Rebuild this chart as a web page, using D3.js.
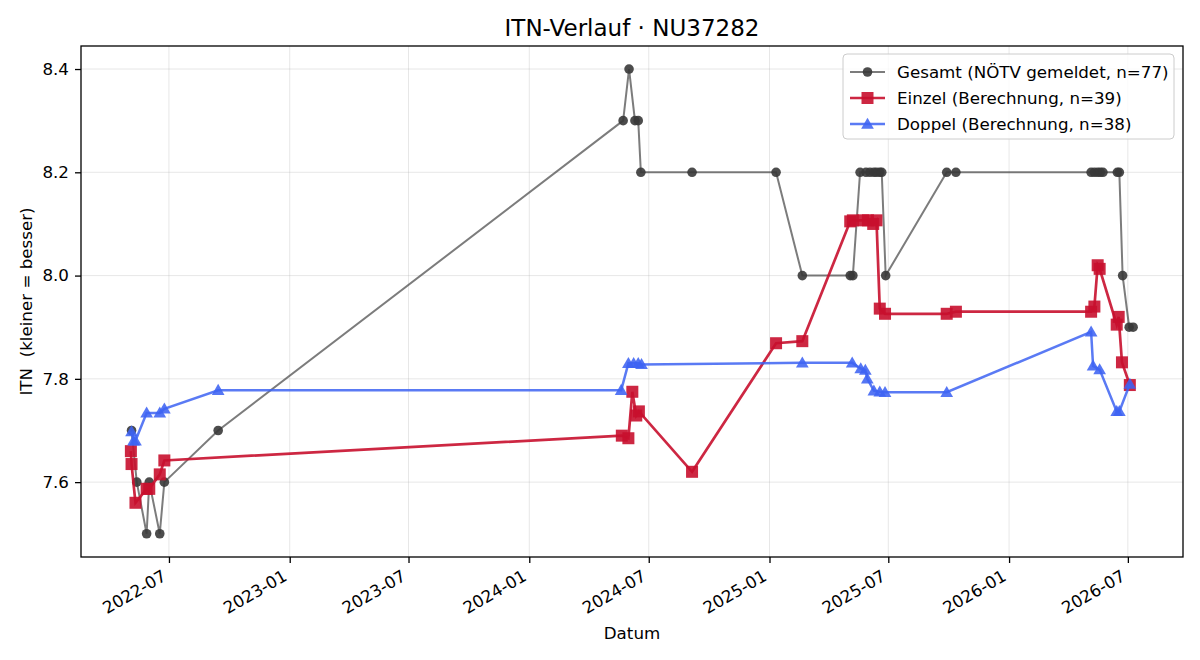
<!DOCTYPE html>
<html>
<head>
<meta charset="utf-8">
<script src="https://cdn.jsdelivr.net/npm/d3@7"></script>
<style>
  body { margin: 0; background: #fff; }
  svg { font-family: "DejaVu Sans", sans-serif; }
  svg text { white-space: pre; }
</style>
</head>
<body>
<svg id="chart" width="1200" height="660"></svg>
<script>
// ---- data ----
const gesamtDates = [
  "2022-05-05", "2022-05-13", "2022-05-28", "2022-06-01", "2022-06-17", "2022-06-24", "2022-09-14",
  "2024-05-23", "2024-06-01", "2024-06-10", "2024-06-15", "2024-06-19", "2024-09-05", "2025-01-11",
  "2025-02-20", "2025-05-04", "2025-05-08", "2025-05-19", "2025-05-28", "2025-06-03", "2025-06-09",
  "2025-06-13", "2025-06-18", "2025-06-21", "2025-06-27", "2025-09-28", "2025-10-12",
  "2026-05-06", "2026-05-11", "2026-05-16", "2026-05-20", "2026-05-24", "2026-06-15", "2026-06-18",
  "2026-06-23", "2026-07-03", "2026-07-09"
];
const gesamtValues = [
  7.7, 7.6, 7.5, 7.6, 7.5, 7.6, 7.7,
  8.3, 8.4, 8.3, 8.3, 8.2, 8.2, 8.2,
  8.0, 8.0, 8.0, 8.2, 8.2, 8.2, 8.2,
  8.2, 8.2, 8.2, 8.0, 8.2, 8.2,
  8.2, 8.2, 8.2, 8.2, 8.2, 8.2, 8.2,
  8.0, 7.9, 7.9
];

const einzelDates = [
  "2022-05-04", "2022-05-05", "2022-05-11", "2022-05-28", "2022-06-01", "2022-06-17", "2022-06-24",
  "2024-05-21", "2024-05-31", "2024-06-06", "2024-06-12", "2024-06-16", "2024-09-05", "2025-01-11",
  "2025-02-20", "2025-05-04", "2025-05-08", "2025-05-24", "2025-05-31", "2025-06-08", "2025-06-13",
  "2025-06-18", "2025-06-26", "2025-09-28", "2025-10-12", "2026-05-06", "2026-05-11", "2026-05-16",
  "2026-05-19", "2026-06-14", "2026-06-17", "2026-06-22", "2026-07-04"
];
const einzelValues = [
  7.66, 7.635, 7.56, 7.587, 7.587, 7.615, 7.642,
  7.69, 7.685, 7.775, 7.729, 7.737, 7.62, 7.869,
  7.873, 8.105, 8.107, 8.107, 8.107, 8.10, 8.107,
  7.936, 7.926, 7.926, 7.93, 7.93, 7.94, 8.02,
  8.013, 7.905, 7.92, 7.832, 7.788
];

const doppelDates = [
  "2022-05-05", "2022-05-08", "2022-05-11", "2022-05-28", "2022-06-17", "2022-06-24", "2022-09-14",
  "2024-05-20", "2024-05-31", "2024-06-08", "2024-06-15", "2024-06-20", "2025-02-20", "2025-05-07",
  "2025-05-20", "2025-05-27", "2025-05-30", "2025-06-09", "2025-06-18", "2025-06-26", "2025-09-28",
  "2026-05-06", "2026-05-09", "2026-05-19", "2026-06-14", "2026-06-18", "2026-07-04"
];
const doppelValues = [
  7.698, 7.68, 7.68, 7.734, 7.734, 7.742, 7.778,
  7.778, 7.83, 7.83, 7.83, 7.828, 7.831, 7.831,
  7.82, 7.817, 7.80, 7.777, 7.775, 7.774, 7.774,
  7.891, 7.825, 7.818, 7.737, 7.737, 7.79
];

const xTickDates = ["2022-07-01", "2023-01-01", "2023-07-01", "2024-01-01", "2024-07-01",
                    "2025-01-01", "2025-07-01", "2026-01-01", "2026-07-01"];
const yTickValues = [7.6, 7.8, 8.0, 8.2, 8.4];

const legendLabels = ["Gesamt (NÖTV gemeldet, n=77)", "Einzel (Berechnung, n=39)", "Doppel (Berechnung, n=38)"];

// ---- layout ----
const plot = { left: 81, right: 1183, top: 46, bottom: 557 };
const parse = d3.utcParse("%Y-%m-%d");
const fmt = d3.utcFormat("%Y-%m");

const x = d3.scaleUtc()
    .domain([parse("2022-02-17"), parse("2026-09-23")])
    .range([plot.left, plot.right]);
const y = d3.scaleLinear()
    .domain([7.455, 8.4446])
    .range([plot.bottom, plot.top]);

const svg = d3.select("#chart");

// grid
const grid = svg.append("g").attr("stroke", "#b0b0b0").attr("stroke-opacity", 0.3).attr("stroke-width", 1);
xTickDates.forEach(d => {
    grid.append("line")
        .attr("x1", x(parse(d))).attr("x2", x(parse(d)))
        .attr("y1", plot.top).attr("y2", plot.bottom);
});
yTickValues.forEach(v => {
    grid.append("line")
        .attr("x1", plot.left).attr("x2", plot.right)
        .attr("y1", y(v)).attr("y2", y(v));
});

// axes
const xAxis = d3.axisBottom(x)
    .tickValues(xTickDates.map(parse))
    .tickFormat(fmt)
    .tickSize(6)
    .tickPadding(6);
const gx = svg.append("g")
    .attr("transform", `translate(0,${plot.bottom})`)
    .call(xAxis)
    .attr("font-family", "DejaVu Sans");
gx.select(".domain").remove();
gx.selectAll(".tick line").attr("stroke", "#000").attr("stroke-width", 1.3);
// rotated labels, right end just left of the tick (like autofmt_xdate)
gx.selectAll(".tick text")
    .attr("font-size", "16.7px")
    .attr("fill", "#000")
    .attr("text-anchor", "end")
    .attr("y", 0)
    .attr("dy", 0)
    .attr("transform", "translate(-2,22.5) rotate(-30)");

const yAxis = d3.axisLeft(y)
    .tickValues(yTickValues)
    .tickFormat(d3.format(".1f"))
    .tickSize(6)
    .tickPadding(6);
const gy = svg.append("g")
    .attr("transform", `translate(${plot.left},0)`)
    .call(yAxis)
    .attr("font-family", "DejaVu Sans");
gy.select(".domain").remove();
gy.selectAll(".tick line").attr("stroke", "#000").attr("stroke-width", 1.3);
gy.selectAll(".tick text").attr("font-size", "16.7px").attr("fill", "#000");

// series
function makeSeries(dates, values) {
    return dates.map((d, i) => ({ date: parse(d), value: values[i] }));
}
const line = d3.line().x(d => x(d.date)).y(d => y(d.value));

const gesamt = makeSeries(gesamtDates, gesamtValues);
const einzel = makeSeries(einzelDates, einzelValues);
const doppel = makeSeries(doppelDates, doppelValues);

const grey = "#444444", red = "#c8102e", blue = "#3d63f2";
const plotArea = svg.append("g");

// Gesamt - grey circles
plotArea.append("path").datum(gesamt)
    .attr("fill", "none").attr("stroke", grey).attr("stroke-opacity", 0.7)
    .attr("stroke-width", 2).attr("d", line);
plotArea.append("g").selectAll("circle").data(gesamt).enter().append("circle")
    .attr("cx", d => x(d.date)).attr("cy", d => y(d.value))
    .attr("r", 4.8).attr("fill", "#383838").attr("fill-opacity", 0.9);

// Einzel - red squares
plotArea.append("path").datum(einzel)
    .attr("fill", "none").attr("stroke", red).attr("stroke-opacity", 0.9)
    .attr("stroke-width", 2.7).attr("d", line);
plotArea.append("g").selectAll("rect").data(einzel).enter().append("rect")
    .attr("x", d => x(d.date) - 6).attr("y", d => y(d.value) - 6)
    .attr("width", 12).attr("height", 12)
    .attr("fill", red).attr("fill-opacity", 0.9);

// Doppel - blue triangles
const tri = d3.symbol().type(d3.symbolTriangle).size(70);
plotArea.append("path").datum(doppel)
    .attr("fill", "none").attr("stroke", blue).attr("stroke-opacity", 0.85)
    .attr("stroke-width", 2.5).attr("d", line);
plotArea.append("g").selectAll("path").data(doppel).enter().append("path")
    .attr("d", tri)
    .attr("transform", d => `translate(${x(d.date)},${y(d.value) + 1})`)
    .attr("fill", blue).attr("fill-opacity", 0.88);

// frame
svg.append("rect")
    .attr("x", plot.left).attr("y", plot.top)
    .attr("width", plot.right - plot.left).attr("height", plot.bottom - plot.top)
    .attr("fill", "none").attr("stroke", "#000").attr("stroke-width", 1.3);

// titles
svg.append("text")
    .attr("x", (plot.left + plot.right) / 2).attr("y", 36)
    .attr("text-anchor", "middle").attr("font-size", "23px")
    .text("ITN-Verlauf · NU37282");
svg.append("text")
    .attr("x", (plot.left + plot.right) / 2).attr("y", 639)
    .attr("text-anchor", "middle").attr("font-size", "16.7px")
    .text("Datum");
svg.append("text")
    .attr("transform", `translate(32,${(plot.top + plot.bottom) / 2}) rotate(-90)`)
    .attr("text-anchor", "middle").attr("font-size", "16.7px")
    .text("ITN  (kleiner = besser)");

// legend
const legend = svg.append("g");
legend.append("rect")
    .attr("x", 843).attr("y", 54).attr("width", 331).attr("height", 85)
    .attr("rx", 4).attr("fill", "#fff").attr("fill-opacity", 0.8)
    .attr("stroke", "#cccccc").attr("stroke-width", 1);
const legendRows = [
    { stroke: grey, so: 0.7, sw: 2, mark: "circle", fill: "#383838" },
    { stroke: red, so: 0.9, sw: 2.7, mark: "square", fill: red },
    { stroke: blue, so: 0.85, sw: 2.5, mark: "triangle", fill: blue }
];
legendRows.forEach((r, i) => {
    const ly = 72 + i * 26;
    legend.append("line")
        .attr("x1", 850).attr("x2", 885).attr("y1", ly).attr("y2", ly)
        .attr("stroke", r.stroke).attr("stroke-opacity", r.so).attr("stroke-width", r.sw);
    if (r.mark === "circle") {
        legend.append("circle").attr("cx", 867.5).attr("cy", ly).attr("r", 4.8)
            .attr("fill", r.fill).attr("fill-opacity", 0.9);
    } else if (r.mark === "square") {
        legend.append("rect").attr("x", 861.5).attr("y", ly - 6).attr("width", 12).attr("height", 12)
            .attr("fill", r.fill).attr("fill-opacity", 0.9);
    } else {
        legend.append("path").attr("d", tri).attr("transform", `translate(867.5,${ly + 1})`)
            .attr("fill", r.fill).attr("fill-opacity", 0.88);
    }
    legend.append("text")
        .attr("x", 897).attr("y", ly).attr("dy", "0.35em")
        .attr("font-size", "16.7px")
        .text(legendLabels[i]);
});
</script>
</body>
</html>
